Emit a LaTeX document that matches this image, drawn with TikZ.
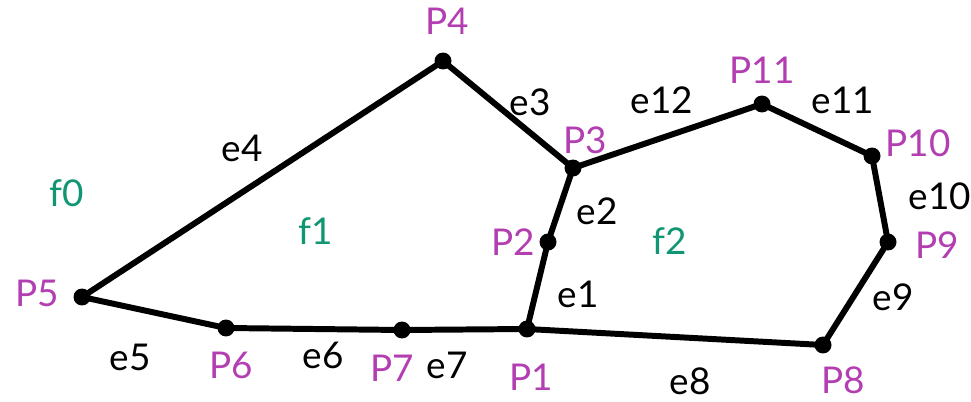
\documentclass[tikz,border=0pt]{standalone}
\usepackage{fontspec}
\setmainfont{Lato}
\definecolor{ptcol}{RGB}{178,62,178}
\definecolor{facecol}{RGB}{16,150,115}
\tikzset{
  vtx/.style={circle, fill=black, inner sep=0pt, minimum size=0.34cm},
  plabel/.style={text=ptcol, inner sep=1pt, font=\fontsize{21}{24}\selectfont},
  elabel/.style={text=black, inner sep=1pt, font=\fontsize{21}{24}\selectfont},
  flabel/.style={text=facecol, inner sep=1pt, font=\fontsize{21}{24}\selectfont},
  edge/.style={line width=3.4pt, line join=round},
}
\begin{document}
\begin{tikzpicture}[x=0.02cm, y=-0.02cm]
    \useasboundingbox (0,0) rectangle (971,402);
    % vertices
    \node[vtx] (p1) at (527,329) {};
    \node[vtx] (p2) at (548,242) {};
    \node[vtx] (p3) at (573,168) {};
    \node[vtx] (p4) at (443,61) {};
    \node[vtx] (p5) at (82,297) {};
    \node[vtx] (p6) at (226,328) {};
    \node[vtx] (p7) at (402,330) {};
    \node[vtx] (p8) at (823,345) {};
    \node[vtx] (p9) at (888,242) {};
    \node[vtx] (p10) at (872,156) {};
    \node[vtx] (p11) at (762,104) {};
    % edges
    \draw[edge] (p1.center) -- (p2.center) -- (p3.center) -- (p4.center) -- (p5.center) -- (p6.center) -- (p7.center) -- (p1.center) -- (p8.center) -- (p9.center) -- (p10.center) -- (p11.center) -- (p3.center);
    % vertex labels
    \node[plabel] (l1) at (531,377) {P1};
    \node[plabel] (l2) at (513,242) {P2};
    \node[plabel] (l3) at (585,140) {P3};
    \node[plabel] (l4) at (447,21) {P4};
    \node[plabel] (l5) at (37,293) {P5};
    \node[plabel] (l6) at (231,365) {P6};
    \node[plabel] (l7) at (392,368) {P7};
    \node[plabel] (l8) at (843,380) {P8};
    \node[plabel] (l9) at (937,245) {P9};
    \node[plabel] (l10) at (918,143) {P10};
    \node[plabel] (l11) at (762,70) {P11};
    % edge labels
    \node[elabel] (le1) at (578,294) {e1};
    \node[elabel] (le2) at (597,211) {e2};
    \node[elabel] (le3) at (530,102) {e3};
    \node[elabel] (le4) at (242,148) {e4};
    \node[elabel] (le5) at (130,357) {e5};
    \node[elabel] (le6) at (323,355) {e6};
    \node[elabel] (le7) at (447,365) {e7};
    \node[elabel] (le8) at (690,381) {e8};
    \node[elabel] (le9) at (893,297) {e9};
    \node[elabel] (le10) at (940,196) {e10};
    \node[elabel] (le11) at (843,100) {e11};
    \node[elabel] (le12) at (662,100) {e12};
    % faces
    \node[flabel] (f0) at (67,193) {f0};
    \node[flabel] (f1) at (316,231) {f1};
    \node[flabel] (f2) at (670,241) {f2};
\end{tikzpicture}
\end{document}
